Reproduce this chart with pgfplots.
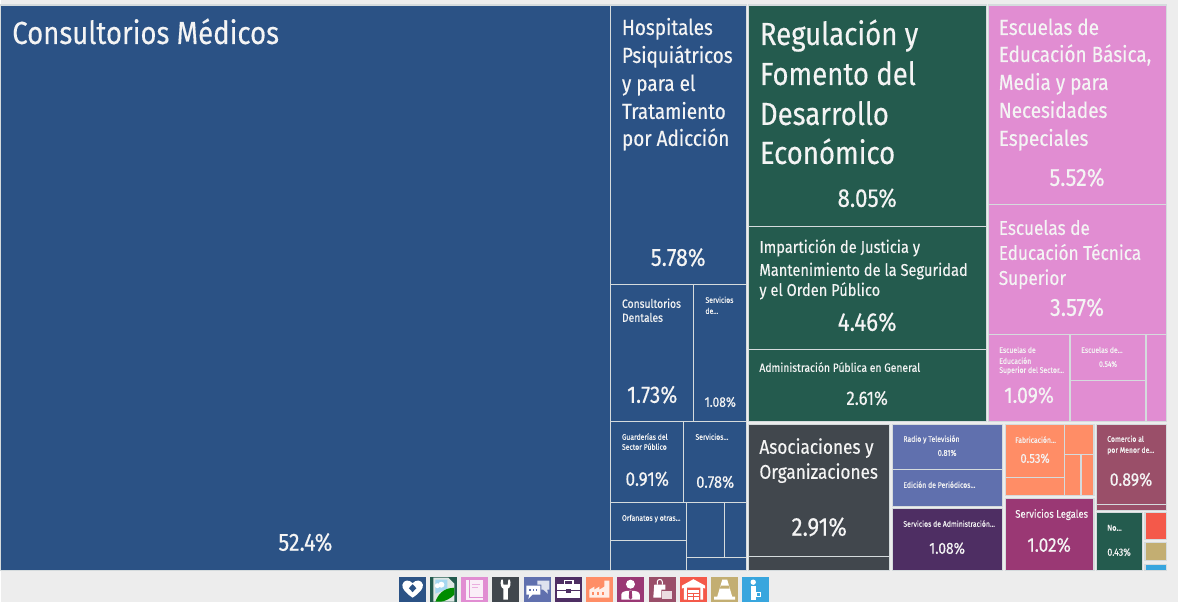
\documentclass[border=0pt]{standalone}
\usepackage{fontspec}
\setmainfont[FakeStretch=0.865,FakeBold=0.3]{Fira Sans}
\usepackage{pgfplots}
\pgfplotsset{compat=1.18}
\definecolor{bgc}{HTML}{EDEDED}
\definecolor{linec}{HTML}{D5DBDD}
\definecolor{txt}{HTML}{F4F4F4}
\definecolor{cblue}{HTML}{2B5285}
\definecolor{cgreen}{HTML}{245B4E}
\definecolor{cpink}{HTML}{E18DD2}
\definecolor{cgrey}{HTML}{41474D}
\definecolor{cperi}{HTML}{6070AE}
\definecolor{cpurp}{HTML}{4E2E63}
\definecolor{corange}{HTML}{FF8D66}
\definecolor{cmag}{HTML}{9A3874}
\definecolor{cmauve}{HTML}{9A4F69}
\definecolor{cred}{HTML}{F4594A}
\definecolor{ctan}{HTML}{C3AE72}
\definecolor{clblue}{HTML}{38A6DE}

% cell: colour, x1, y1, x2, y2 in reference pixels
\newcommand\cell[5]{\addplot[fill=#1,draw=linec,line width=1.2pt] coordinates {(#2,#3) (#4,#3) (#4,#5) (#2,#5)} -- cycle;}
% label: x, baseline y, size, text
\newcommand\lab[4]{\node[anchor=base west,inner sep=0pt,text=txt,font=\fontsize{#3}{#3}\selectfont] at (axis cs:#1,#2) {#4};}
\newcommand\pct[4]{\node[anchor=base,inner sep=0pt,text=txt,font=\fontsize{#3}{#3}\selectfont] at (axis cs:#1,#2) {#4};}

\begin{document}
\begin{tikzpicture}
\begin{axis}[
    scale only axis, width=1178bp, height=602bp,
    xmin=0, xmax=1178, ymin=0, ymax=602,
    y dir=reverse, hide axis, clip=false,
]
\addplot[fill=bgc,draw=none] coordinates {(0,0) (1178,0) (1178,602) (0,602)} -- cycle;
% blue group
\cell{cblue}{0}{5}{610.5}{570.5}
\cell{cblue}{610.5}{5}{746.5}{285}
\cell{cblue}{610.5}{285}{693.5}{422}
\cell{cblue}{693.5}{285}{746.5}{422}
\cell{cblue}{610.5}{422}{683.5}{503}
\cell{cblue}{683.5}{422}{746.5}{503}
\cell{cblue}{610.5}{503}{686.5}{541}
\cell{cblue}{610.5}{541}{686.5}{570.5}
\cell{cblue}{686.5}{503}{724}{557.5}
\cell{cblue}{724}{503}{746.5}{557.5}
\cell{cblue}{686.5}{557.5}{746.5}{570.5}
% green group
\cell{cgreen}{748}{5}{986}{227}
\cell{cgreen}{748}{227}{986}{350}
\cell{cgreen}{748}{350}{986}{422}
% grey group
\cell{cgrey}{748}{424.5}{889.5}{557}
\cell{cgrey}{748}{557}{889.5}{570.5}
% pink group
\cell{cpink}{988}{5}{1166.5}{205}
\cell{cpink}{988}{205}{1166.5}{335}
\cell{cpink}{988}{335}{1070}{422}
\cell{cpink}{1070}{335}{1146}{381}
\cell{cpink}{1070}{381}{1146}{422}
\cell{cpink}{1146}{335}{1166.5}{422}
% periwinkle, purple
\cell{cperi}{892.5}{424.5}{1002}{470}
\cell{cperi}{892.5}{470}{1002}{506.5}
\cell{cpurp}{892.5}{509}{1002}{570.5}
% orange group
\cell{corange}{1005}{424.5}{1064.5}{478}
\cell{corange}{1005}{478}{1064.5}{496}
\cell{corange}{1064.5}{424.5}{1094}{455}
\cell{corange}{1064.5}{455}{1081}{496}
\cell{corange}{1081}{455}{1094}{496}
% magenta, mauve, small ones
\cell{cmag}{1005}{499}{1094}{570.5}
\cell{cmauve}{1096.5}{424.5}{1166.5}{504.5}
\cell{cmauve}{1096.5}{504.5}{1166.5}{511}
\cell{cgreen}{1096.5}{513}{1142.5}{570.5}
\cell{cred}{1145}{513}{1166.5}{539.5}
\cell{ctan}{1145}{542.5}{1166.5}{561}
\cell{clblue}{1145}{564.5}{1166.5}{570.5}

\lab{11.5}{44}{32}{Consultorios Médicos}
\pct{305}{551}{25}{52.4\%}
\lab{621.5}{35}{22}{Hospitales}
\lab{621.5}{63}{22}{Psiquiátricos}
\lab{621.5}{91}{22}{y para el}
\lab{621.5}{119}{22}{Tratamiento}
\lab{621.5}{146}{22}{por Adicción}
\pct{678}{266}{25}{5.78\%}
\lab{621.5}{308}{12}{Consultorios}
\lab{621.5}{322}{12}{Dentales}
\pct{652}{403}{24}{1.73\%}
\lab{705}{303}{8}{Servicios}
\lab{705}{314}{8}{de...}
\pct{720}{407}{14}{1.08\%}
\lab{621.5}{440}{8}{Guarderías del}
\lab{621.5}{450}{8}{Sector Público}
\pct{647}{486}{20}{0.91\%}
\lab{695}{440}{8}{Servicios...}
\pct{715}{488}{17}{0.78\%}
\lab{621.5}{521}{8}{Orfanatos y otras...}
\lab{759.5}{45}{32}{Regulación y}
\lab{759.5}{85}{32}{Fomento del}
\lab{759.5}{125}{32}{Desarrollo}
\lab{759.5}{164}{32}{Económico}
\pct{867}{207}{26}{8.05\%}
\lab{759}{253}{17}{Impartición de Justicia y}
\lab{759}{276}{17}{Mantenimiento de la Seguridad}
\lab{759}{296}{17}{y el Orden Público}
\pct{867}{331}{26}{4.46\%}
\lab{759}{372}{12}{Administración Pública en General}
\pct{867}{405}{19.5}{2.61\%}
\lab{759}{454}{20}{Asociaciones y}
\lab{759}{479}{20}{Organizaciones}
\pct{819}{536}{26}{2.91\%}
\lab{998.5}{35}{22}{Escuelas de}
\lab{998.5}{62}{22}{Educación Básica,}
\lab{998.5}{90}{22}{Media y para}
\lab{998.5}{118}{22}{Necesidades}
\lab{998.5}{146}{22}{Especiales}
\pct{1077}{186}{25}{5.52\%}
\lab{998.5}{235}{20}{Escuelas de}
\lab{998.5}{260}{20}{Educación Técnica}
\lab{998.5}{285}{20}{Superior}
\pct{1077}{316}{25}{3.57\%}
\lab{999}{353}{8}{Escuelas de}
\lab{999}{364}{8}{Educación}
\lab{999}{373}{8}{Superior del Sector...}
\pct{1029}{403}{22.5}{1.09\%}
\lab{1081}{353}{8}{Escuelas de...}
\pct{1108}{367}{8}{0.54\%}
\lab{903}{442}{8}{Radio y Televisión}
\pct{947}{456}{8.5}{0.81\%}
\lab{903}{488}{8}{Edición de Periódicos...}
\lab{903}{527}{8}{Servicios de Administración...}
\pct{947}{554}{16}{1.08\%}
\lab{1015}{443}{8}{Fabricación...}
\pct{1035}{463}{13}{0.53\%}
\lab{1015}{518}{11}{Servicios Legales}
\pct{1049}{552}{20}{1.02\%}
\lab{1107}{442}{8}{Comercio al}
\lab{1107}{453}{8}{por Menor de...}
\pct{1131}{486}{18.5}{0.89\%}
\lab{1107}{531}{8.5}{No...}
\pct{1119}{556}{10.5}{0.43\%}
\end{axis}

% category icons along the bottom (local 26.5x25 box)
\begin{scope}[x=1bp,y=-1bp,shift={(399bp,25bp)}]
  \fill[cblue] (0,0) rectangle (26.5,25);
  \fill[white] (13.2,21) .. controls (6,16) and (2.5,12) .. (3,8) .. controls (4,3) and (10,2.5) .. (13.2,6.5) .. controls (16.5,2.5) and (22.5,3) .. (23.5,8) .. controls (24,12) and (20.5,16) .. (13.2,21) -- cycle;
  \fill[cblue] (13.2,7.5) -- (17,11.5) -- (13.2,15.5) -- (9.5,11.5) -- cycle;
\end{scope}
\begin{scope}[x=1bp,y=-1bp,shift={(430bp,25bp)}]
  \fill[cgreen] (0,0) rectangle (26.5,25);
  \fill[white!85!cgreen] (3,1) -- (18,1) -- (24,7) -- (24,25) -- (3,25) -- cycle;
  \fill[clblue!45!white] (5,3) -- (17,3) -- (17,12) -- (5,17) -- cycle;
  \fill[white] (7,9) circle[radius=2.5];\fill[white] (11,8) circle[radius=3];
  \fill[green!55!black] (5,25) .. controls (9,14) and (17,11) .. (24,11) -- (24,18) .. controls (20,22) and (14,25) .. (10,25) -- cycle;
\end{scope}
\begin{scope}[x=1bp,y=-1bp,shift={(461bp,25bp)}]
  \fill[cpink] (0,0) rectangle (26.5,25);
  \fill[white!85!cpink] (5,3) rectangle (22,23);
  \fill[cpink] (8,3) rectangle (8.8,20);\fill[cpink] (8,20) rectangle (22,20.8);
  \fill[cpink!70!white] (11,7) rectangle (19,8.2);\fill[cpink!70!white] (11,10) rectangle (17,11.2);
\end{scope}
\begin{scope}[x=1bp,y=-1bp,shift={(492bp,25bp)}]
  \fill[cgrey] (0,0) rectangle (26.5,25);
  \fill[white] (9,3) -- (10.5,3) -- (11,8) -- (15.5,8) -- (16,3) -- (17.5,3) .. controls (19,7) and (18,11) .. (15.5,12) -- (15.5,23) -- (11,23) -- (11,12) .. controls (8.5,11) and (7.5,7) .. (9,3) -- cycle;
\end{scope}
\begin{scope}[x=1bp,y=-1bp,shift={(524bp,25bp)}]
  \fill[cperi] (0,0) rectangle (26.5,25);
  \fill[white] (2,9) -- (16,9) -- (16,18) -- (8,18) -- (4,22) -- (5,18) -- (2,18) -- cycle;
  \fill[white!80!cperi] (13,4) -- (25,4) -- (25,13) -- (23,13) -- (23.5,17) -- (19,13) -- (17,13) -- (17,8) -- (13,8) -- cycle;
  \fill[cperi] (5,12.5) rectangle (6.5,14);\fill[cperi] (8.3,12.5) rectangle (9.8,14);\fill[cperi] (11.5,12.5) rectangle (13,14);
\end{scope}
\begin{scope}[x=1bp,y=-1bp,shift={(555bp,25bp)}]
  \fill[cpurp] (0,0) rectangle (26.5,25);
  \fill[white] (2,7) rectangle (24.5,21);
  \fill[cpurp] (2,13) rectangle (24.5,14);\fill[cpurp] (11,12) rectangle (15.5,16);
  \draw[white,line width=1.5pt] (9,7) -- (9,4) -- (17.5,4) -- (17.5,7);
\end{scope}
\begin{scope}[x=1bp,y=-1bp,shift={(586bp,25bp)}]
  \fill[corange] (0,0) rectangle (26.5,25);
  \fill[white!85!corange] (3,21) -- (3,13) -- (8,10) -- (8,13) -- (13,10) -- (13,13) -- (18,10) -- (18,4) -- (23,4) -- (23,21) -- cycle;
  \fill[corange] (6,15) rectangle (8,18);\fill[corange] (11,15) rectangle (13,18);\fill[corange] (16,15) rectangle (18,18);
\end{scope}
\begin{scope}[x=1bp,y=-1bp,shift={(617bp,25bp)}]
  \fill[cmag] (0,0) rectangle (26.5,25);
  \fill[white] (13.2,7.5) circle[radius=4.5];
  \fill[white] (4,23) -- (4,18) .. controls (4,15) and (8,14) .. (13.2,14) .. controls (18.5,14) and (22.5,15) .. (22.5,18) -- (22.5,23) -- cycle;
  \fill[cmag] (12,14.5) -- (14.5,14.5) -- (15,21) -- (13.2,23) -- (11.5,21) -- cycle;
\end{scope}
\begin{scope}[x=1bp,y=-1bp,shift={(649bp,25bp)}]
  \fill[cmauve] (0,0) rectangle (26.5,25);
  \fill[white] (5,8) -- (16,8) -- (16,13) -- (12,13) -- (12,21) -- (4,21) -- cycle;
  \fill[white!80!cmauve] (13,14) rectangle (23,22);
  \draw[white,line width=1pt] (8,8) -- (8,5) .. controls (8,2) and (13,2) .. (13,5) -- (13,8);
\end{scope}
\begin{scope}[x=1bp,y=-1bp,shift={(680bp,25bp)}]
  \fill[cred] (0,0) rectangle (26.5,25);
  \fill[white] (13.2,2.5) -- (25,9) -- (25,12) -- (23,11) -- (23,23) -- (20,23) -- (20,11) -- (6.5,11) -- (6.5,23) -- (3.5,23) -- (3.5,11) -- (1.5,12) -- (1.5,9) -- cycle;
  \fill[white] (8,13) rectangle (18.5,23);
  \fill[cred] (8,16) rectangle (18.5,16.8);\fill[cred] (8,19.5) rectangle (18.5,20.3);\fill[cred] (12.9,16) rectangle (13.6,23);
\end{scope}
\begin{scope}[x=1bp,y=-1bp,shift={(711bp,25bp)}]
  \fill[ctan] (0,0) rectangle (27,25);
  \fill[white] (11,3) -- (16,3) -- (21,20) -- (24,20) -- (24,23) -- (3,23) -- (3,20) -- (6,20) -- cycle;
  \fill[ctan] (9.5,9) -- (17.5,9) -- (18.4,12) -- (8.6,12) -- cycle;
\end{scope}
\begin{scope}[x=1bp,y=-1bp,shift={(742bp,25bp)}]
  \fill[clblue] (0,0) rectangle (27,25);
  \fill[white] (11,5.5) circle[radius=2.7];
  \fill[white] (9,9.5) rectangle (14,23);
  \fill[white] (14,15) rectangle (19,20);
  \fill[clblue] (15,16) rectangle (18,19);
\end{scope}
\end{tikzpicture}
\end{document}
